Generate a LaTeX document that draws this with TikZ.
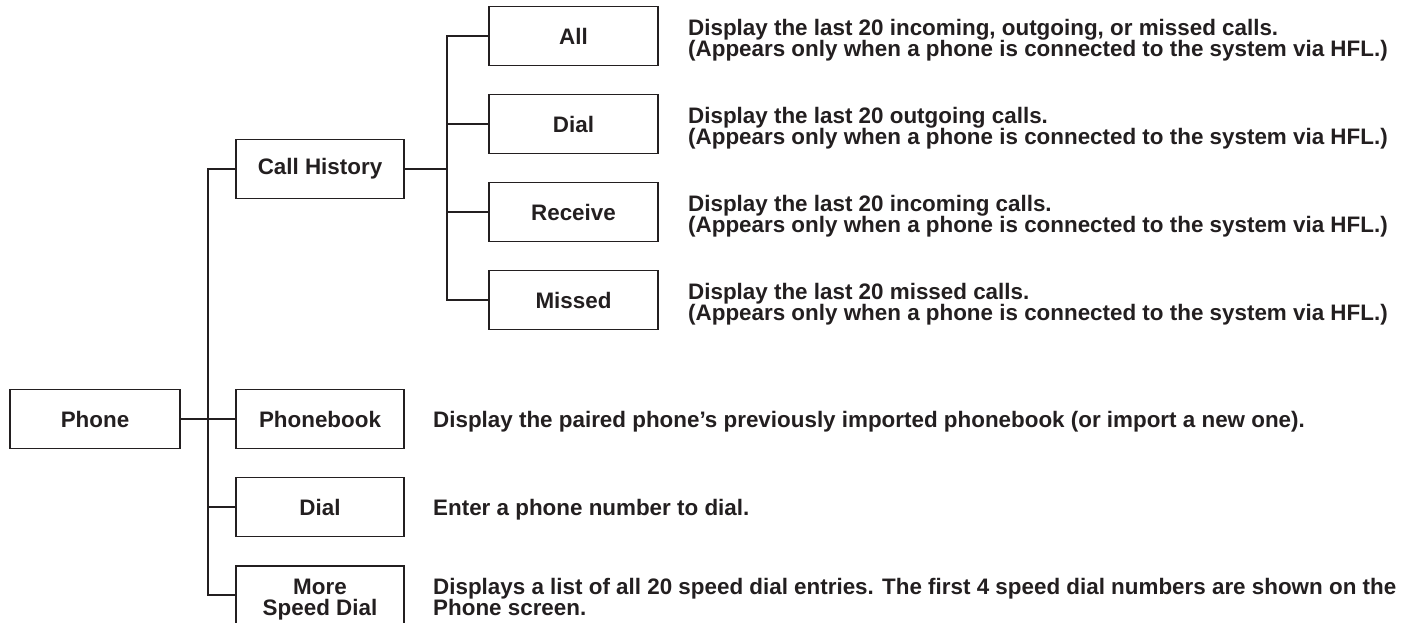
\documentclass[tikz,border=0pt]{standalone}
\usepackage{fontspec}
\setmainfont{Liberation Sans}
\definecolor{ink}{HTML}{231F20}
\begin{document}
\begin{tikzpicture}[x=1pt,y=-1pt,
        box/.style={draw=ink,line width=1.4pt,minimum width=168pt,minimum height=59pt,inner sep=0pt,align=center,text=ink,font=\fontsize{22.4}{21}\selectfont\bfseries},
        note/.style={anchor=west,inner sep=0pt,align=left,text=ink,font=\fontsize{22.4}{21}\selectfont\bfseries},
        wire/.style={draw=ink,line width=1.4pt}]
        \useasboundingbox (0,0) rectangle (1409,623);
        % boxes
        \node [box,minimum width=170pt] (phone) at (95,419) {Phone};
        \node [box] (history) at (320,169) {Call History};
        \node [box] (book) at (320,419) {Phonebook};
        \node [box] (dial) at (320,507) {Dial};
        \node [box,minimum height=67pt] (speed) at (320,599.5) {More\\Speed Dial};
        \node [box,minimum width=169pt] (all) at (573.5,36) {All};
        \node [box,minimum width=169pt] (out) at (573.5,124) {Dial};
        \node [box,minimum width=169pt] (in) at (573.5,212) {Receive};
        \node [box,minimum width=169pt] (missed) at (573.5,300) {Missed};
        % line
        \coordinate (trunk) at (208,419);
        \coordinate (branch) at (447,169);
        \draw [wire] (phone.east) -- (book.west);
        \draw [wire] (history.west) -| (trunk) |- ([yshift=4.5pt]speed.west);
        \draw [wire] (trunk) |- (dial.west);
        \draw [wire] (history.east) -- (branch);
        \draw [wire] (all.west) -| (branch) |- (missed.west);
        \draw [wire] (branch) |- (out.west);
        \draw [wire] (branch) |- (in.west);
        % text
        \node [note] (allnote) at (688,40) {Display the last 20 incoming, outgoing, or missed calls.\\(Appears only when a phone is connected to the system via HFL.)};
        \node [note] (outnote) at (688,128) {Display the last 20 outgoing calls.\\(Appears only when a phone is connected to the system via HFL.)};
        \node [note] (innote) at (688,216) {Display the last 20 incoming calls.\\(Appears only when a phone is connected to the system via HFL.)};
        \node [note] (missednote) at (688,304) {Display the last 20 missed calls.\\(Appears only when a phone is connected to the system via HFL.)};
        \node [note] (booknote) at (433,421.5) {Display the paired phone’s previously imported phonebook (or import a new one).};
        \node [note] (dialnote) at (433,509.5) {Enter a phone number to dial.};
        \node [note] (speednote) at (433,597) {Displays a list of all 20 speed dial entries. The first 4 speed dial numbers are shown on the\\Phone screen.};
    \end{tikzpicture}
\end{document}
